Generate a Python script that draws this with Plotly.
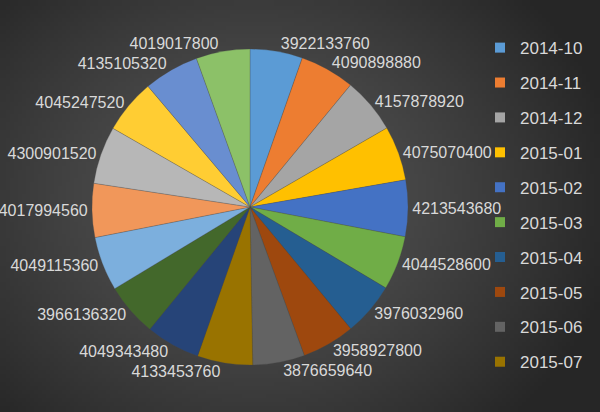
import plotly.graph_objects as go
import numpy as np, zlib, struct, base64

months = ["2014-10", "2014-11", "2014-12", "2015-01", "2015-02", "2015-03",
          "2015-04", "2015-05", "2015-06", "2015-07", "2015-08", "2015-09",
          "2015-10", "2015-11", "2015-12", "2016-01", "2016-02", "2016-03"]
values = [3922133760, 4090898880, 4157878920, 4075070400, 4213543680, 4044528600,
          3976032960, 3958927800, 3876659640, 4133453760, 4049343480, 3966136320,
          4049115360, 4017994560, 4300901520, 4045247520, 4135105320, 4019017800]
colors = ["#5B9BD5", "#ED7D31", "#A5A5A5", "#FFC000", "#4472C4", "#70AD47",
          "#255E91", "#9E480E", "#636363", "#997300", "#264478", "#43682B",
          "#7CAFDD", "#F1975A", "#B7B7B7", "#FFCD33", "#698ED0", "#8CC168"]
legend_count = 10


def gradient_png(w, h):
    yy, xx = np.mgrid[0:h, 0:w]
    cx, cy = w * 0.42, h * 0.48
    d = np.sqrt(((xx - cx) / (w * 0.62)) ** 2 + ((yy - cy) / (h * 0.75)) ** 2)
    d = np.clip(d, 0, 1)
    v = (86 - (86 - 38) * d ** 1.3).astype(np.uint8)
    raw = b"".join(b"\x00" + bytes(np.stack([v[r], v[r], v[r]], axis=1).ravel()) for r in range(h))

    def chunk(t, data):
        c = struct.pack(">I", len(data)) + t + data
        return c + struct.pack(">I", zlib.crc32(t + data) & 0xffffffff)

    png = b"\x89PNG\r\n\x1a\n" + chunk(b"IHDR", struct.pack(">IIBBBBB", w, h, 8, 2, 0, 0, 0))
    png += chunk(b"IDAT", zlib.compress(raw, 9)) + chunk(b"IEND", b"")
    return "data:image/png;base64," + base64.b64encode(png).decode()


fig = go.Figure()
fig.add_trace(go.Pie(
    labels=months, values=values, sort=False, direction="clockwise", rotation=0,
    marker=dict(colors=colors, line=dict(color="rgba(70,70,70,0.5)", width=0.5)),
    textinfo="value", textposition="outside",
    texttemplate="%{value:d}",
    outsidetextfont=dict(family="Liberation Sans, Arial", size=16, color="#D9D9D9"),
    showlegend=False,
    domain=dict(x=[0.1533, 0.6800], y=[0.114, 0.881]),
    hoverinfo="label+value",
))
for i in range(legend_count):
    fig.add_trace(go.Scatter(
        x=[None], y=[None], mode="markers", name=months[i],
        legendgroup=months[i],
        marker=dict(symbol="square", size=10, color=colors[i]),
    ))

fig.update_layout(
    width=600, height=412,
    margin=dict(l=0, r=0, t=0, b=0, autoexpand=False),
    paper_bgcolor="#3a3a3a", plot_bgcolor="rgba(0,0,0,0)",
    xaxis=dict(visible=False), yaxis=dict(visible=False),
    legend=dict(x=0.80, y=0.927, xanchor="left", yanchor="top",
                font=dict(family="Liberation Sans, Arial", size=17, color="#D9D9D9"),
                tracegroupgap=9.8, traceorder="grouped", itemwidth=30,
                bgcolor="rgba(0,0,0,0)"),
    images=[dict(source=gradient_png(150, 103), xref="paper", yref="paper", x=0, y=1,
                 sizex=1, sizey=1, xanchor="left", yanchor="top",
                 sizing="stretch", layer="below")],
)
fig.write_html("out.html")
